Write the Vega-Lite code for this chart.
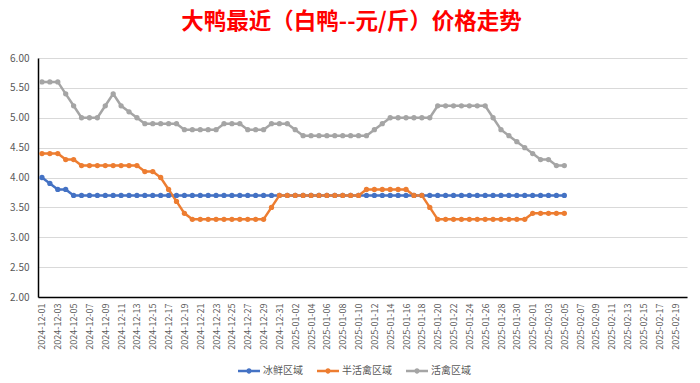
{
  "$schema": "https://vega.github.io/schema/vega-lite/v6.json",
  "width": 649,
  "height": 239,
  "autosize": "none",
  "padding": {"left": 38, "top": 58, "right": 13, "bottom": 86},
  "background": "white",
  "config": {
    "font": "Noto Sans CJK SC",
    "view": {"stroke": null}
  },
  "title": {
    "text": "大鸭最近（白鸭--元/斤）价格走势",
    "color": "#FF0000",
    "fontSize": 22.5,
    "fontWeight": "bold",
    "font": "Noto Sans CJK SC",
    "anchor": "middle",
    "frame": "group",
    "baseline": "bottom",
    "offset": 20,
    "dx": -11,
    "dy": 23
  },
  "data": {
    "values": [
      {"date": "2024-12-01", "冰鲜区域": 4.0, "半活禽区域": 4.4, "活禽区域": 5.6},
      {"date": "2024-12-02", "冰鲜区域": 3.9, "半活禽区域": 4.4, "活禽区域": 5.6},
      {"date": "2024-12-03", "冰鲜区域": 3.8, "半活禽区域": 4.4, "活禽区域": 5.6},
      {"date": "2024-12-04", "冰鲜区域": 3.8, "半活禽区域": 4.3, "活禽区域": 5.4},
      {"date": "2024-12-05", "冰鲜区域": 3.7, "半活禽区域": 4.3, "活禽区域": 5.2},
      {"date": "2024-12-06", "冰鲜区域": 3.7, "半活禽区域": 4.2, "活禽区域": 5.0},
      {"date": "2024-12-07", "冰鲜区域": 3.7, "半活禽区域": 4.2, "活禽区域": 5.0},
      {"date": "2024-12-08", "冰鲜区域": 3.7, "半活禽区域": 4.2, "活禽区域": 5.0},
      {"date": "2024-12-09", "冰鲜区域": 3.7, "半活禽区域": 4.2, "活禽区域": 5.2},
      {"date": "2024-12-10", "冰鲜区域": 3.7, "半活禽区域": 4.2, "活禽区域": 5.4},
      {"date": "2024-12-11", "冰鲜区域": 3.7, "半活禽区域": 4.2, "活禽区域": 5.2},
      {"date": "2024-12-12", "冰鲜区域": 3.7, "半活禽区域": 4.2, "活禽区域": 5.1},
      {"date": "2024-12-13", "冰鲜区域": 3.7, "半活禽区域": 4.2, "活禽区域": 5.0},
      {"date": "2024-12-14", "冰鲜区域": 3.7, "半活禽区域": 4.1, "活禽区域": 4.9},
      {"date": "2024-12-15", "冰鲜区域": 3.7, "半活禽区域": 4.1, "活禽区域": 4.9},
      {"date": "2024-12-16", "冰鲜区域": 3.7, "半活禽区域": 4.0, "活禽区域": 4.9},
      {"date": "2024-12-17", "冰鲜区域": 3.7, "半活禽区域": 3.8, "活禽区域": 4.9},
      {"date": "2024-12-18", "冰鲜区域": 3.7, "半活禽区域": 3.6, "活禽区域": 4.9},
      {"date": "2024-12-19", "冰鲜区域": 3.7, "半活禽区域": 3.4, "活禽区域": 4.8},
      {"date": "2024-12-20", "冰鲜区域": 3.7, "半活禽区域": 3.3, "活禽区域": 4.8},
      {"date": "2024-12-21", "冰鲜区域": 3.7, "半活禽区域": 3.3, "活禽区域": 4.8},
      {"date": "2024-12-22", "冰鲜区域": 3.7, "半活禽区域": 3.3, "活禽区域": 4.8},
      {"date": "2024-12-23", "冰鲜区域": 3.7, "半活禽区域": 3.3, "活禽区域": 4.8},
      {"date": "2024-12-24", "冰鲜区域": 3.7, "半活禽区域": 3.3, "活禽区域": 4.9},
      {"date": "2024-12-25", "冰鲜区域": 3.7, "半活禽区域": 3.3, "活禽区域": 4.9},
      {"date": "2024-12-26", "冰鲜区域": 3.7, "半活禽区域": 3.3, "活禽区域": 4.9},
      {"date": "2024-12-27", "冰鲜区域": 3.7, "半活禽区域": 3.3, "活禽区域": 4.8},
      {"date": "2024-12-28", "冰鲜区域": 3.7, "半活禽区域": 3.3, "活禽区域": 4.8},
      {"date": "2024-12-29", "冰鲜区域": 3.7, "半活禽区域": 3.3, "活禽区域": 4.8},
      {"date": "2024-12-30", "冰鲜区域": 3.7, "半活禽区域": 3.5, "活禽区域": 4.9},
      {"date": "2024-12-31", "冰鲜区域": 3.7, "半活禽区域": 3.7, "活禽区域": 4.9},
      {"date": "2025-01-01", "冰鲜区域": 3.7, "半活禽区域": 3.7, "活禽区域": 4.9},
      {"date": "2025-01-02", "冰鲜区域": 3.7, "半活禽区域": 3.7, "活禽区域": 4.8},
      {"date": "2025-01-03", "冰鲜区域": 3.7, "半活禽区域": 3.7, "活禽区域": 4.7},
      {"date": "2025-01-04", "冰鲜区域": 3.7, "半活禽区域": 3.7, "活禽区域": 4.7},
      {"date": "2025-01-05", "冰鲜区域": 3.7, "半活禽区域": 3.7, "活禽区域": 4.7},
      {"date": "2025-01-06", "冰鲜区域": 3.7, "半活禽区域": 3.7, "活禽区域": 4.7},
      {"date": "2025-01-07", "冰鲜区域": 3.7, "半活禽区域": 3.7, "活禽区域": 4.7},
      {"date": "2025-01-08", "冰鲜区域": 3.7, "半活禽区域": 3.7, "活禽区域": 4.7},
      {"date": "2025-01-09", "冰鲜区域": 3.7, "半活禽区域": 3.7, "活禽区域": 4.7},
      {"date": "2025-01-10", "冰鲜区域": 3.7, "半活禽区域": 3.7, "活禽区域": 4.7},
      {"date": "2025-01-11", "冰鲜区域": 3.7, "半活禽区域": 3.8, "活禽区域": 4.7},
      {"date": "2025-01-12", "冰鲜区域": 3.7, "半活禽区域": 3.8, "活禽区域": 4.8},
      {"date": "2025-01-13", "冰鲜区域": 3.7, "半活禽区域": 3.8, "活禽区域": 4.9},
      {"date": "2025-01-14", "冰鲜区域": 3.7, "半活禽区域": 3.8, "活禽区域": 5.0},
      {"date": "2025-01-15", "冰鲜区域": 3.7, "半活禽区域": 3.8, "活禽区域": 5.0},
      {"date": "2025-01-16", "冰鲜区域": 3.7, "半活禽区域": 3.8, "活禽区域": 5.0},
      {"date": "2025-01-17", "冰鲜区域": 3.7, "半活禽区域": 3.7, "活禽区域": 5.0},
      {"date": "2025-01-18", "冰鲜区域": 3.7, "半活禽区域": 3.7, "活禽区域": 5.0},
      {"date": "2025-01-19", "冰鲜区域": 3.7, "半活禽区域": 3.5, "活禽区域": 5.0},
      {"date": "2025-01-20", "冰鲜区域": 3.7, "半活禽区域": 3.3, "活禽区域": 5.2},
      {"date": "2025-01-21", "冰鲜区域": 3.7, "半活禽区域": 3.3, "活禽区域": 5.2},
      {"date": "2025-01-22", "冰鲜区域": 3.7, "半活禽区域": 3.3, "活禽区域": 5.2},
      {"date": "2025-01-23", "冰鲜区域": 3.7, "半活禽区域": 3.3, "活禽区域": 5.2},
      {"date": "2025-01-24", "冰鲜区域": 3.7, "半活禽区域": 3.3, "活禽区域": 5.2},
      {"date": "2025-01-25", "冰鲜区域": 3.7, "半活禽区域": 3.3, "活禽区域": 5.2},
      {"date": "2025-01-26", "冰鲜区域": 3.7, "半活禽区域": 3.3, "活禽区域": 5.2},
      {"date": "2025-01-27", "冰鲜区域": 3.7, "半活禽区域": 3.3, "活禽区域": 5.0},
      {"date": "2025-01-28", "冰鲜区域": 3.7, "半活禽区域": 3.3, "活禽区域": 4.8},
      {"date": "2025-01-29", "冰鲜区域": 3.7, "半活禽区域": 3.3, "活禽区域": 4.7},
      {"date": "2025-01-30", "冰鲜区域": 3.7, "半活禽区域": 3.3, "活禽区域": 4.6},
      {"date": "2025-01-31", "冰鲜区域": 3.7, "半活禽区域": 3.3, "活禽区域": 4.5},
      {"date": "2025-02-01", "冰鲜区域": 3.7, "半活禽区域": 3.4, "活禽区域": 4.4},
      {"date": "2025-02-02", "冰鲜区域": 3.7, "半活禽区域": 3.4, "活禽区域": 4.3},
      {"date": "2025-02-03", "冰鲜区域": 3.7, "半活禽区域": 3.4, "活禽区域": 4.3},
      {"date": "2025-02-04", "冰鲜区域": 3.7, "半活禽区域": 3.4, "活禽区域": 4.2},
      {"date": "2025-02-05", "冰鲜区域": 3.7, "半活禽区域": 3.4, "活禽区域": 4.2}
    ]
  },
  "transform": [
    {"fold": ["冰鲜区域", "半活禽区域", "活禽区域"], "as": ["series", "price"]}
  ],
  "mark": {
    "type": "line",
    "strokeWidth": 2.5,
    "point": {"filled": true, "size": 28, "opacity": 1}
  },
  "encoding": {
    "x": {
      "field": "date",
      "type": "ordinal",
      "scale": {
        "domain": [
          "2024-12-01","2024-12-02","2024-12-03","2024-12-04","2024-12-05","2024-12-06","2024-12-07","2024-12-08","2024-12-09","2024-12-10",
          "2024-12-11","2024-12-12","2024-12-13","2024-12-14","2024-12-15","2024-12-16","2024-12-17","2024-12-18","2024-12-19","2024-12-20",
          "2024-12-21","2024-12-22","2024-12-23","2024-12-24","2024-12-25","2024-12-26","2024-12-27","2024-12-28","2024-12-29","2024-12-30","2024-12-31",
          "2025-01-01","2025-01-02","2025-01-03","2025-01-04","2025-01-05","2025-01-06","2025-01-07","2025-01-08","2025-01-09","2025-01-10",
          "2025-01-11","2025-01-12","2025-01-13","2025-01-14","2025-01-15","2025-01-16","2025-01-17","2025-01-18","2025-01-19","2025-01-20",
          "2025-01-21","2025-01-22","2025-01-23","2025-01-24","2025-01-25","2025-01-26","2025-01-27","2025-01-28","2025-01-29","2025-01-30","2025-01-31",
          "2025-02-01","2025-02-02","2025-02-03","2025-02-04","2025-02-05","2025-02-06","2025-02-07","2025-02-08","2025-02-09","2025-02-10",
          "2025-02-11","2025-02-12","2025-02-13","2025-02-14","2025-02-15","2025-02-16","2025-02-17","2025-02-18","2025-02-19","2025-02-20"
        ]
      },
      "axis": {
        "title": null,
        "values": [
          "2024-12-01","2024-12-03","2024-12-05","2024-12-07","2024-12-09","2024-12-11","2024-12-13","2024-12-15","2024-12-17","2024-12-19",
          "2024-12-21","2024-12-23","2024-12-25","2024-12-27","2024-12-29","2024-12-31","2025-01-02","2025-01-04","2025-01-06","2025-01-08",
          "2025-01-10","2025-01-12","2025-01-14","2025-01-16","2025-01-18","2025-01-20","2025-01-22","2025-01-24","2025-01-26","2025-01-28",
          "2025-01-30","2025-02-01","2025-02-03","2025-02-05","2025-02-07","2025-02-09","2025-02-11","2025-02-13","2025-02-15","2025-02-17","2025-02-19"
        ],
        "labelAngle": -90,
        "labelFontSize": 9,
        "labelColor": "#595959",
        "labelPadding": 6,
        "ticks": false,
        "grid": false,
        "domainColor": "#000000",
        "domainWidth": 1.5,
        "labelOverlap": false
      }
    },
    "y": {
      "field": "price",
      "type": "quantitative",
      "scale": {"domain": [2, 6], "nice": false, "zero": false},
      "axis": {
        "title": null,
        "values": [2, 2.5, 3, 3.5, 4, 4.5, 5, 5.5, 6],
        "format": ".2f",
        "labelFontSize": 10,
        "labelColor": "#595959",
        "labelPadding": 9,
        "ticks": false,
        "domainColor": "#000000",
        "domainWidth": 1.5,
        "gridColor": "#D9D9D9",
        "gridWidth": 1
      }
    },
    "color": {
      "field": "series",
      "type": "nominal",
      "scale": {
        "domain": ["冰鲜区域", "半活禽区域", "活禽区域"],
        "range": ["#4472C4", "#ED7D31", "#A5A5A5"]
      },
      "legend": {
        "title": null,
        "orient": "none",
        "legendX": 200,
        "legendY": 302,
        "direction": "horizontal",
        "labelFontSize": 10,
        "labelColor": "#595959",
        "columnPadding": 14,
        "symbolType": "M-1,-0.12H1V0.12H-1Z M0.24,0A0.24,0.24,0,1,1,-0.24,0A0.24,0.24,0,1,1,0.24,0Z",
        "symbolSize": 484,
        "symbolStrokeWidth": 0,
        "labelOffset": 3,
        "encode": {
          "symbols": {
            "update": {
              "fill": {"scale": "color", "field": "value"},
              "strokeWidth": {"value": 0}
            }
          }
        }
      }
    }
  }
}
